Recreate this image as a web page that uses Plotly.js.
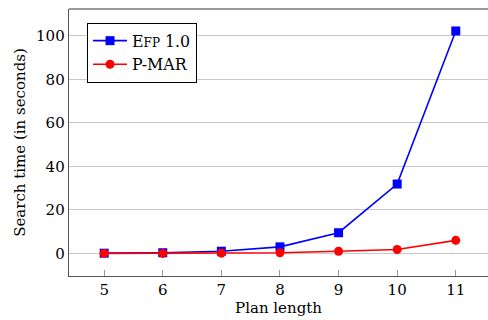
<!DOCTYPE html>
<html><head><meta charset="utf-8">
<script src="https://cdn.plot.ly/plotly-3.0.1.min.js"></script>
<style>html,body{margin:0;padding:0;overflow:hidden;background:#fff}</style>
</head><body><div id="chart" style="width:488px;height:320px"></div>
<script>
const planLength = [5, 6, 7, 8, 9, 10, 11];
const efpTimes = [0.1, 0.3, 1.0, 3.0, 9.5, 31.9, 102.3];
const pmarTimes = [0.0, 0.0, 0.1, 0.3, 1.0, 1.8, 6.0];
const seriesNames = ["E<span style='font-size:12px'>FP</span> 1.0", "P-MAR"];
const yTicks = [0, 20, 40, 60, 80, 100];

const font = {family: "DejaVu Serif", size: 15, color: "#000"};
const legendFont = {family: "DejaVu Serif", size: 15.8, color: "#000"};
const traces = [
  {x: planLength, y: efpTimes, name: seriesNames[0], type: "scatter", mode: "lines+markers",
   line: {color: "#0000ff", width: 1.6}, marker: {symbol: "square", size: 9, color: "#0000ff"}},
  {x: planLength, y: pmarTimes, name: seriesNames[1], type: "scatter", mode: "lines+markers",
   line: {color: "#ff0000", width: 1.6}, marker: {symbol: "circle", size: 9, color: "#ff0000"}}
];
const layout = {
  width: 488, height: 320,
  margin: {l: 69, r: 0, t: 9, b: 44},
  paper_bgcolor: "#fff", plot_bgcolor: "#fff",
  font: font,
  showlegend: true,
  legend: {x: 0.043, y: 0.948, xanchor: "left", yanchor: "top", bordercolor: "#000", borderwidth: 1,
           bgcolor: "#fff", font: legendFont, tracegroupgap: 0, itemwidth: 34},
  xaxis: {range: [4.4, 11.55], tickvals: planLength, ticks: "inside", ticklen: 6, tickcolor: "#999",
          showgrid: false, zeroline: false, showline: true, linecolor: "#555", linewidth: 1.3,
          title: {text: "Plan length", font: font, standoff: 4}, tickfont: font},
  yaxis: {range: [-10.4, 112.4], tickvals: yTicks, ticks: "", showgrid: true, gridcolor: "#c8c8c8", gridwidth: 1,
          zeroline: false, showline: true, linecolor: "#555", linewidth: 1.3,
          title: {text: "Search time (in seconds)", font: font, standoff: 6}, tickfont: font},
  shapes: [{type: "line", xref: "paper", yref: "paper", x0: 0, x1: 1.02, y0: 1, y1: 1,
            line: {color: "#777", width: 1.5}}]
};
Plotly.newPlot("chart", traces, layout, {displayModeBar: false, staticPlot: true});
</script></body></html>
